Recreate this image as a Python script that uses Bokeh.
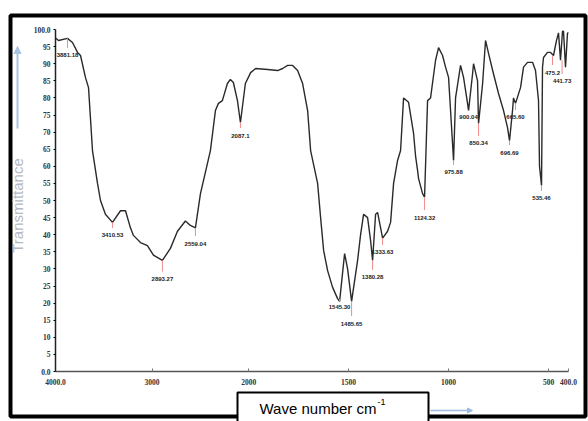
import numpy as np
from bokeh.plotting import figure
from bokeh.models import Range1d, FixedTicker, BoxAnnotation, Label, Arrow, NormalHead
from bokeh.embed import file_html
from bokeh.resources import INLINE
from bokeh.core.properties import value

# ---- data (wavenumber cm-1, transmittance %) ----
wavenumber = [4000, 3969, 3876, 3824, 3772, 3741, 3690, 3658, 3617, 3565, 3534, 3483, 3410,
              3327, 3275, 3224, 3193, 3120, 3048, 2986, 2893, 2810, 2737, 2655, 2603, 2551,
              2499, 2396, 2344, 2313, 2272, 2220, 2189, 2158, 2116, 2085, 2034, 1990, 1965,
              1905, 1855, 1830, 1805, 1780, 1755, 1730, 1705, 1690, 1655, 1640, 1625, 1605,
              1580, 1555, 1545, 1520, 1505, 1485, 1455, 1440, 1425, 1405, 1390, 1380, 1365,
              1355, 1330, 1305, 1290, 1275, 1255, 1240, 1225, 1200, 1175, 1165, 1155, 1150,
              1130, 1120, 1105, 1090, 1065, 1050, 1030, 1015, 1000, 990, 975, 965, 940, 925,
              905, 900, 880, 875, 855, 850, 830, 815, 800, 775, 750, 725, 705, 695, 680, 675,
              665, 640, 625, 605, 580, 565, 550, 545, 535, 530, 525, 505, 490, 475, 460, 450,
              440, 430, 425, 415, 405, 400]
transmittance = [97.5, 96.8, 97.4, 96.2, 93.3, 92.4, 86, 83, 64.6, 55, 50, 46, 43.6,
                 47, 47, 42, 39.8, 37.7, 36.8, 34, 32.5, 36, 41, 44, 42.7, 42,
                 52, 64.6, 76.3, 78.4, 79.2, 84.2, 85.4, 84.5, 79.2, 72.8, 84.2, 87.4, 88.6,
                 88.3, 88, 88.6, 89.5, 89.5, 88, 84.2, 76.3, 64.6, 55, 45, 35.4, 29.5,
                 24.6, 21.3, 20.5, 34.5, 30, 20.5, 32.5, 40, 46, 45, 38.3, 32.5, 46,
                 46.5, 39, 41, 43.6, 55, 61.7, 64.6, 80, 78.7, 69.6, 63, 58.8, 56.4,
                 52, 51, 79.2, 80, 91, 94.7, 92.4, 89, 86, 76.3, 61.7, 80, 89.5, 86,
                 78.4, 76.3, 87, 90, 85, 72.5, 84, 96.8, 93, 87, 81.3, 76.3, 71.3, 67.5, 76.3, 80,
                 78.4, 83, 89, 90.4, 90.4, 88, 79.2, 60, 54.4, 89, 91.8, 93.3, 93.3, 92.4, 96.8, 99,
                 91, 99.5, 99.5, 89, 99, 99]

peak_labels = ["3881.18", "3410.53", "2893.27", "2559.04", "2087.1", "1545.30", "1485.65",
               "1380.28", "1333.63", "1124.32", "975.88", "900.04", "850.34", "696.69",
               "665.60", "535.46", "475.2", "441.73"]
peak_wn = [3876, 3410, 2893, 2551, 2085, 1545, 1485, 1380, 1330, 1120, 975, 900, 850, 695,
           665, 535, 480, 432]
peak_T = [97.4, 43.6, 32.5, 42, 72.8, 20.5, 20.5, 32.5, 39, 51, 61.7, 76.3, 72.5, 67.5,
          78.4, 54.4, 92.4, 91]
label_T = [92.4, 39.8, 27.0, 37.4, 69.0, 19.0, 14.0, 27.5, 34.8, 45.0, 58.2, 74.3, 66.7,
           64.0, 74.3, 50.6, 87.4, 84.8]

x_ticks = [4000, 3000, 2000, 1500, 1000, 500, 400]
x_tick_labels = ["4000.0", "3000", "2000", "1500", "1000", "500", "400.0"]
y_ticks = list(range(0, 101, 5))

# instrument-style axis: the scale below 2000 cm-1 is expanded
K = 2.07
def to_u(w):
    w = np.asarray(w, dtype=float)
    return np.where(w >= 2000, 4000 - w, 2000 + K * (2000 - w))

U_MAX = float(to_u([400])[0])

W, H = 588, 421
AX_L, AX_R = 55, 568      # pixel columns of 4000 and 400 cm-1
AX_TOP, AX_BOT = 29, 371  # pixel rows of 100 % and 0 %
ppu = (AX_R - AX_L) / U_MAX
ppt = (AX_BOT - AX_TOP) / 100.0
x_range = Range1d(-AX_L / ppu, U_MAX + (W - AX_R) / ppu)
y_range = Range1d(-(H - AX_BOT) / ppt, 100 + AX_TOP / ppt)

p = figure(width=W, height=H, output_backend="svg", toolbar_location=None,
           x_range=x_range, y_range=y_range,
           min_border_left=0, min_border_right=0, min_border_top=0, min_border_bottom=0)
p.outline_line_color = None
p.grid.visible = False
p.background_fill_color = "white"
p.border_fill_color = "white"

p.line(to_u(wavenumber), transmittance, line_color="#2a2a2a", line_width=1.4)

# red peak markers and peak labels
lbl_top = [t + 2.2 for t in label_T]
p.segment(x0=to_u(peak_wn), y0=peak_T, x1=to_u(peak_wn), y1=lbl_top,
          line_color="#f08c8c", line_width=1)
p.text(x=to_u(peak_wn), y=label_T, text=peak_labels, text_font=value("Liberation Sans"),
       text_font_size="6px", text_font_style="bold", text_color="#222222",
       text_align="center", text_baseline="middle")

# axes, drawn at fixed locations inside the frame
xa = p.xaxis[0]
xa.fixed_location = 0
xa.bounds = (0, U_MAX)
xa.ticker = FixedTicker(ticks=list(to_u(x_ticks)))
xa.major_label_overrides = {float(u): s for u, s in zip(to_u(x_ticks), x_tick_labels)}
xa.axis_line_color = "#555555"
xa.axis_line_width = 1.6
xa.major_tick_in = 3
xa.major_tick_out = 0
xa.major_tick_line_color = "#777777"
xa.minor_tick_line_color = None
xa.major_label_standoff = 7
xa.major_label_text_font = "Liberation Serif"
xa.major_label_text_font_style = "bold"
xa.major_label_text_font_size = "7.5px"
xa.major_label_text_color = "#333333"

ya = p.yaxis[0]
ya.fixed_location = 0
ya.bounds = (0, 100)
ya.ticker = FixedTicker(ticks=y_ticks)
ya.major_label_overrides = {0: "0.0", 100: "100.0"}
ya.axis_line_color = "#222222"
ya.axis_line_width = 1.5
ya.major_tick_in = 0
ya.major_tick_out = 2
ya.minor_tick_line_color = None
ya.major_label_standoff = 3
ya.major_label_text_font = "Liberation Serif"
ya.major_label_text_font_style = "bold"
ya.major_label_text_font_size = "7.5px"
ya.major_label_text_color = "#333333"

# outer frame
p.add_layout(BoxAnnotation(left=10, right=585, top=15, bottom=416,
                           left_units="canvas", right_units="canvas",
                           top_units="canvas", bottom_units="canvas",
                           fill_alpha=0, line_color="black", line_alpha=1, line_width=4))
# y label + arrow
p.add_layout(Arrow(x_start=17, y_start=128, x_end=17, y_end=46,
                   start_units="canvas", end_units="canvas",
                   line_color="#a9c3e0", line_width=2,
                   end=NormalHead(size=7, fill_color="#a9c3e0", line_color="#a9c3e0")))
p.add_layout(Label(x=17, y=205, x_units="canvas", y_units="canvas", text="Transmittance",
                   angle=90, angle_units="deg", text_align="center", text_baseline="middle",
                   text_font="Liberation Sans", text_font_size="15px", text_color="#b4b9c2"))
# x label box + arrow
p.add_layout(BoxAnnotation(left=237, right=428, top=392, bottom=430,
                           left_units="canvas", right_units="canvas",
                           top_units="canvas", bottom_units="canvas",
                           fill_color="white", fill_alpha=1, line_color="black", line_alpha=1,
                           line_width=2))
p.add_layout(Label(x=259, y=408, x_units="canvas", y_units="canvas", text="Wave number cm",
                   text_align="left", text_baseline="middle",
                   text_font="Liberation Sans", text_font_size="15px", text_color="black"))
p.add_layout(Label(x=377, y=401, x_units="canvas", y_units="canvas", text="-1",
                   text_align="left", text_baseline="middle",
                   text_font="Liberation Sans", text_font_size="9px", text_color="black"))
p.add_layout(Arrow(x_start=430, y_start=410, x_end=472, y_end=410,
                   start_units="canvas", end_units="canvas",
                   line_color="#9dbbe0", line_width=1.5,
                   end=NormalHead(size=5, fill_color="#9dbbe0", line_color="#9dbbe0")))

open("out.html", "w").write(file_html(p, INLINE))
